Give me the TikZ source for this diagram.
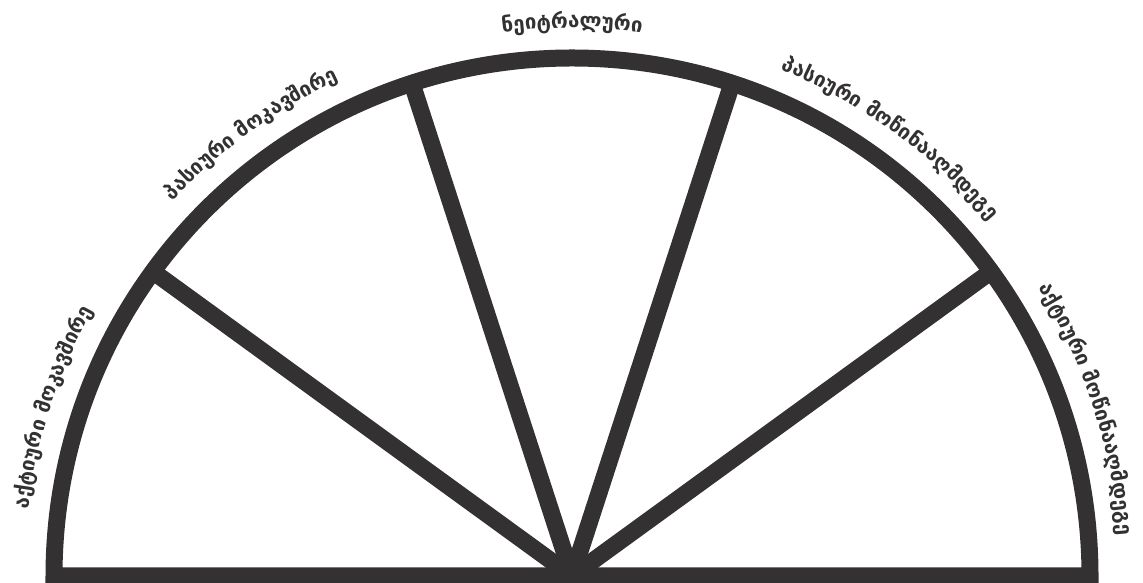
\documentclass[tikz,border=0pt]{standalone}
\usepackage{fontspec}
\newfontfamily\geo{DejaVu Sans Bold}
\usetikzlibrary{decorations.text}
\definecolor{ink}{RGB}{51,49,50}
\begin{document}
\begin{tikzpicture}[x=1pt,y=1pt,
  frame/.style={draw=ink, line width=17pt, line join=miter},
  spoke/.style={draw=ink, line width=17pt},
  arclabel/.style={decorate, decoration={text along path, text align=center, text color=ink,
     text={|\geo\fontsize{20.5}{25}\selectfont|#1}}}]
\useasboundingbox (0,0) rectangle (1143,583);
\coordinate (c) at (572,7);
\coordinate (r) at (1090,7);
\draw[frame] (r) arc[start angle=0,end angle=180,radius=518] -- cycle;
\foreach \a in {36,72,108,144} \draw[spoke] (c) -- ++(\a:518);
\begin{scope}[shift={(c)}]
\path[arclabel={აქტიური მოკავშირე}] (197:548) arc[start angle=197,end angle=127,radius=548];
\path[arclabel={პასიური მოკავშირე}] (161:548) arc[start angle=161,end angle=91,radius=548];
\path[arclabel={ნეიტრალური}] (125:548) arc[start angle=125,end angle=55,radius=548];
\path[arclabel={პასიური მოწინააღმდეგე}] (89:548) arc[start angle=89,end angle=19,radius=548];
\path[arclabel={აქტიური მოწინააღმდეგე}] (53:548) arc[start angle=53,end angle=-17,radius=548];
\end{scope}
\end{tikzpicture}
\end{document}
